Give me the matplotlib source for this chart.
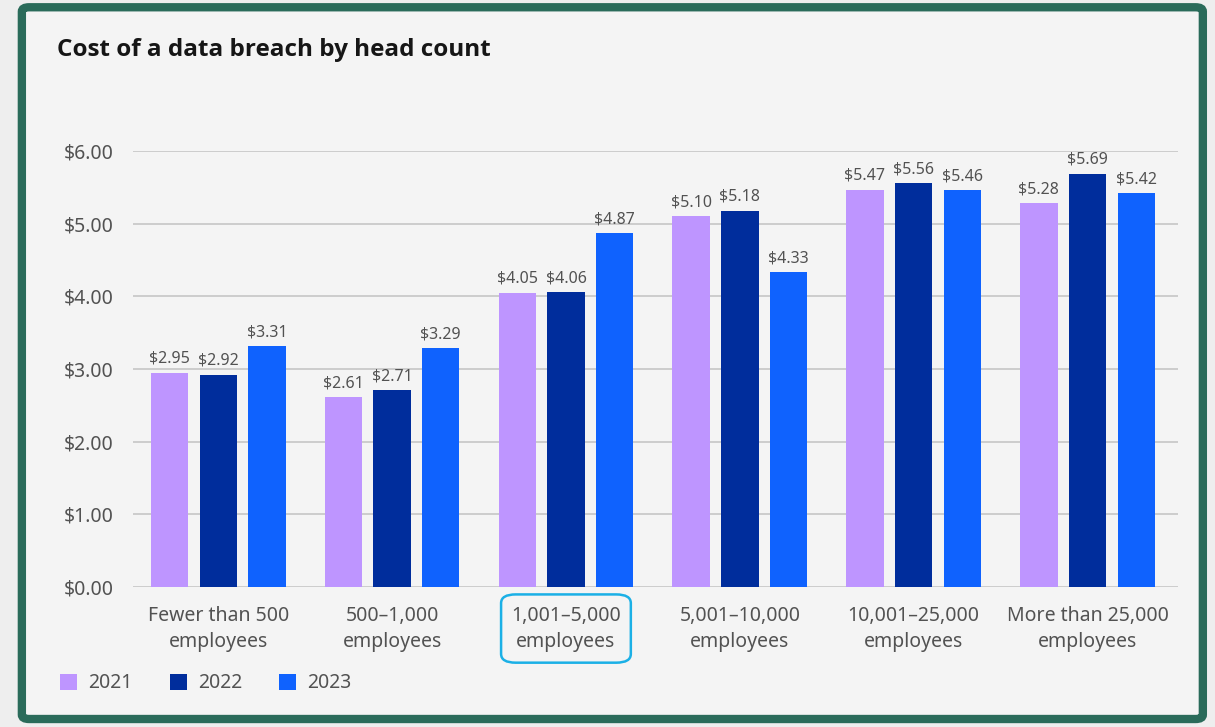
import matplotlib.pyplot as plt
import numpy as np
from matplotlib.patches import FancyBboxPatch, Patch

# Dati
categories = ["Fewer than 500\nemployees", "500\u20131,000\nemployees", "1,001\u20135,000\nemployees",
              "5,001\u201310,000\nemployees", "10,001\u201325,000\nemployees", "More than 25,000\nemployees"]
years = ["2021", "2022", "2023"]
cost_2021 = [2.95, 2.61, 4.05, 5.10, 5.47, 5.28]
cost_2022 = [2.92, 2.71, 4.06, 5.18, 5.56, 5.69]
cost_2023 = [3.31, 3.29, 4.87, 4.33, 5.46, 5.42]
colors = ["#be95ff", "#002d9c", "#0f62fe"]
highlight = 2

plt.rcParams['font.family'] = ['Noto Sans', 'DejaVu Sans']

fig = plt.figure(figsize=(12.15, 7.27), dpi=100)
fig.patch.set_facecolor('#eeeeee')

# Pannello con bordo verde
panel = FancyBboxPatch((0.018, 0.011), 0.972, 0.979, boxstyle="round,pad=0,rounding_size=0.006",
                       transform=fig.transFigure, facecolor='#f4f4f4', edgecolor='#2a6b5a',
                       linewidth=6, zorder=-1)
fig.patches.append(panel)

ax = fig.add_axes([0.1095, 0.1926, 0.86, 0.5997])
ax.set_zorder(2)
ax.set_facecolor('none')

x = np.arange(len(categories))
step = 0.28
width = 0.215
for i, (vals, col) in enumerate(zip([cost_2021, cost_2022, cost_2023], colors)):
    pos = x + (i - 1) * step
    bars = ax.bar(pos, vals, width=width, color=col, zorder=3)
    for b, v in zip(bars, vals):
        ax.text(b.get_x() + b.get_width() / 2, v + 0.08, "${:.2f}".format(v), ha='center', va='bottom',
                fontsize=11.5, color='#525252', zorder=4, clip_on=False)

ax.set_ylim(0, 6)
ax.set_xlim(-0.49, 5.52)
ax.set_yticks(np.arange(0, 7, 1))
ax.set_yticklabels(["${:.2f}".format(v) for v in np.arange(0, 7, 1)])
ax.set_xticks(x)
ax.set_xticklabels(categories, linespacing=1.35)
ax.grid(axis='y', color='#c6c6c6', linewidth=1.2, zorder=0)
ax.set_axisbelow(True)
for s in ax.spines.values():
    s.set_visible(False)
ax.tick_params(axis='y', length=0, pad=14, labelsize=14, labelcolor='#525252')
ax.tick_params(axis='x', length=0, pad=14, labelsize=14, labelcolor='#525252')

# Titolo
fig.text(0.047, 0.931, "Cost of a data breach by head count", fontsize=17.5, fontweight='bold',
         family=['Open Sans', 'DejaVu Sans'], color='#161616', va='center', ha='left')

# Legenda
handles = [Patch(facecolor=c, edgecolor='none') for c in colors]
fig.legend(handles, years, loc='center left', bbox_to_anchor=(0.035, 0.06), ncol=3, frameon=False,
           handlelength=0.88, handleheight=0.88, handletextpad=0.57, columnspacing=1.9,
           fontsize=14, labelcolor='#525252')

# Riquadro evidenziato attorno alla categoria
fig.canvas.draw()
renderer = fig.canvas.get_renderer()
bb = ax.get_xticklabels()[highlight].get_window_extent(renderer)
inv = fig.transFigure.inverted()
(x0, y0), (x1, y1) = inv.transform([[bb.x0 - 10, bb.y0 - 11], [bb.x1 + 10, bb.y1 + 12]])
box = FancyBboxPatch((x0, y0), x1 - x0, y1 - y0, boxstyle="round,pad=0,rounding_size=0.012",
                     transform=fig.transFigure, facecolor='none', edgecolor='#1bb0e6', linewidth=1.8)
fig.patches.append(box)

fig.savefig("out.png", dpi=100, facecolor=fig.get_facecolor())
